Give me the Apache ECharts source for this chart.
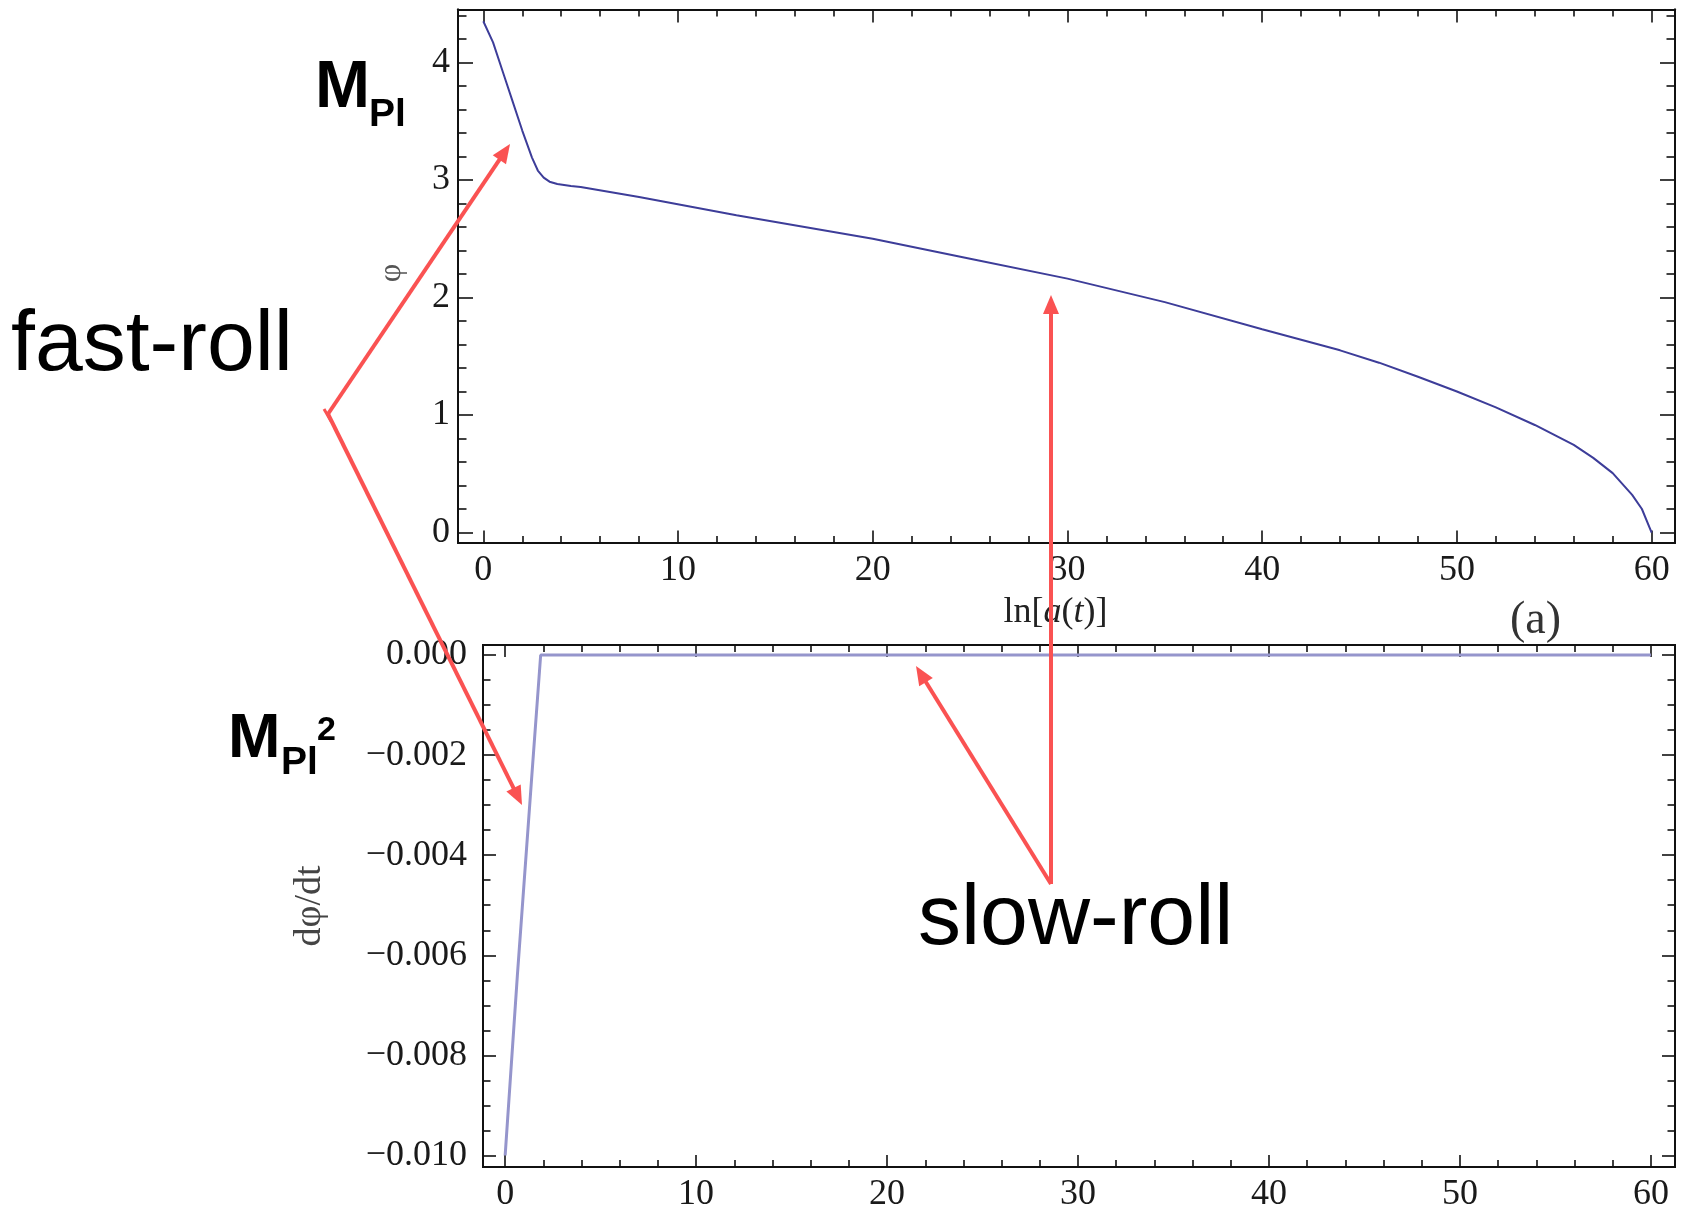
<!DOCTYPE html>
<html>
<head>
<meta charset="utf-8">
<script src="https://cdn.jsdelivr.net/npm/echarts@6/dist/echarts.min.js"></script>
<style>
  html, body { margin: 0; padding: 0; background: #fff; }
  #main { width: 1684px; height: 1213px; }
</style>
</head>
<body>
<div id="main"></div>
<script>
// top panel: phi against ln a(t)
const lnA = [0, 0.5, 1, 1.5, 2, 2.5, 2.8, 3.1, 3.4, 3.8, 4.5, 5, 8, 13, 20, 25, 30, 35, 40, 44, 46, 48, 50, 52, 54, 56, 57, 58, 59, 59.5, 60];
const phi = [4.35, 4.17, 3.92, 3.67, 3.42, 3.19, 3.08, 3.02, 2.985, 2.965, 2.948, 2.94, 2.855, 2.70, 2.50, 2.33, 2.16, 1.96, 1.73, 1.55, 1.445, 1.325, 1.20, 1.065, 0.915, 0.745, 0.635, 0.505, 0.32, 0.2, 0];

// bottom panel: dphi/dt against ln a(t)
const lnA2 = [0, 0.64, 1.38, 1.86, 2.2, 60];
const dphi = [-0.0100, -0.0064, -0.0025, 0, 0, 0];

// tick labels
const xTicks = [0, 10, 20, 30, 40, 50, 60];
const phiTicks = [0, 1, 2, 3, 4];
const dphiTicks = [0, -0.002, -0.004, -0.006, -0.008, -0.010];

const RED = '#fa5252';
const INK = '#111';
const SERIF = '"Liberation Serif", "Times New Roman", serif';
const SANS = '"Liberation Sans", Arial, Helvetica, sans-serif';

// minor tick positions (between the labelled ones)
function minors(from, to, step, every) {
    let out = [];
    let n = Math.round((to - from) / step);
    for (let k = 0; k <= n; k++) {
        if (k % every !== 0) out.push(+(from + k * step).toFixed(6));
    }
    return out;
}

function axis(grid, pos, min, max, ticks, len, extra) {
    return Object.assign({
        type: 'value',
        gridIndex: grid,
        position: pos,
        min: min,
        max: max,
        axisLine: { show: true, onZero: false, lineStyle: { color: INK, width: 2 } },
        axisTick: { show: true, inside: true, length: len, customValues: ticks, lineStyle: { color: INK, width: 1.6 } },
        axisLabel: { show: false },
        splitLine: { show: false }
    }, extra || {});
}

const tickFont = { fontFamily: SERIF, fontSize: 36, color: '#1a1a1a' };

const xMinor = minors(0, 60, 2, 5);
const phiMinor = minors(0, 4.4, 0.2, 5).concat([4.2, 4.4]).filter((v, i, a) => a.indexOf(v) === i);
const dphiMinor = minors(-0.010, 0, 0.0005, 4);

const fmtD = v => (Math.abs(v) < 1e-9 ? '0.000' : '\u2212' + Math.abs(v).toFixed(3));

const xAxes = [
    // top panel
    axis(0, 'bottom', -1.3, 61.2, xTicks, 12, {
        axisLabel: Object.assign({ show: true, customValues: xTicks, margin: 10 }, tickFont),
        name: 'ln[{i|a}({i|t})]',
        nameLocation: 'middle',
        nameGap: 52,
        nameTextStyle: {
            fontFamily: SERIF, fontSize: 36, color: '#222', padding: [0, 22, 0, 0],
            rich: { i: { fontFamily: SERIF, fontSize: 36, fontStyle: 'italic', color: '#222' } }
        }
    }),
    axis(0, 'bottom', -1.3, 61.2, xMinor, 6.5),
    axis(0, 'top', -1.3, 61.2, xTicks, 13),
    axis(0, 'top', -1.3, 61.2, xMinor, 7),
    // bottom panel
    axis(1, 'bottom', -1.16, 61.26, xTicks, 12, {
        axisLabel: Object.assign({ show: true, customValues: xTicks, margin: 10 }, tickFont)
    }),
    axis(1, 'bottom', -1.16, 61.26, xMinor, 7),
    axis(1, 'top', -1.16, 61.26, xTicks, 12),
    axis(1, 'top', -1.16, 61.26, xMinor, 7)
];

const yAxes = [
    // top panel
    axis(0, 'left', -0.085, 4.45, phiTicks, 15, {
        axisLabel: Object.assign({ show: true, customValues: phiTicks, margin: 8 }, tickFont),
        name: 'φ',
        nameLocation: 'middle',
        nameRotate: 90,
        nameGap: 50,
        nameTextStyle: { fontFamily: SERIF, fontSize: 32, color: '#555', padding: [0, 0, 0, 6] }
    }),
    axis(0, 'left', -0.085, 4.45, phiMinor, 8.5),
    axis(0, 'right', -0.085, 4.45, phiTicks, 15),
    axis(0, 'right', -0.085, 4.45, phiMinor, 8.5),
    // bottom panel
    axis(1, 'left', -0.01023, 0.0002, dphiTicks, 13, {
        axisLabel: Object.assign({ show: true, customValues: dphiTicks, margin: 16, formatter: fmtD }, tickFont),
        name: 'dφ/dt',
        nameLocation: 'middle',
        nameRotate: 90,
        nameGap: 154,
        nameTextStyle: { fontFamily: SERIF, fontSize: 38, color: '#444' }
    }),
    axis(1, 'left', -0.01023, 0.0002, dphiMinor, 7.5),
    axis(1, 'right', -0.01023, 0.0002, dphiTicks, 13),
    axis(1, 'right', -0.01023, 0.0002, dphiMinor, 7.5)
];

// red annotation arrows
function arrow(x1, y1, x2, y2) {
    let dx = x2 - x1, dy = y2 - y1;
    let L = Math.sqrt(dx * dx + dy * dy);
    let ux = dx / L, uy = dy / L;
    let head = 19, half = 8;
    let bx = x2 - ux * head, by = y2 - uy * head;
    return [
        { type: 'line', z: 100, shape: { x1: x1, y1: y1, x2: bx + ux * 2, y2: by + uy * 2 },
          style: { stroke: RED, lineWidth: 4 } },
        { type: 'polygon', z: 100, shape: { points: [[x2, y2], [bx - uy * half, by + ux * half], [bx + uy * half, by - ux * half]] },
          style: { fill: RED } }
    ];
}

function label(x, y, text, font, color) {
    return {
        type: 'text', z: 100, x: x, y: y,
        style: { text: text, font: font, fill: color || '#000',
                 align: 'left', verticalAlign: 'middle', textAlign: 'left', textVerticalAlign: 'middle' }
    };
}

let graphics = [];
graphics = graphics.concat(arrow(328, 414, 510, 144));
graphics = graphics.concat(arrow(328, 414, 522, 805));
graphics = graphics.concat(arrow(1051, 884, 1051, 295));
graphics = graphics.concat(arrow(1051, 884, 916, 666));
// little cross-bar where the two fast-roll arrows meet
graphics.push({ type: 'line', z: 100, shape: { x1: 324, y1: 409, x2: 331, y2: 421 }, style: { stroke: RED, lineWidth: 3 } });
graphics.push(label(11, 346, 'fast-roll', '86px ' + SANS));
graphics.push(label(918, 920, 'slow-roll', '86px ' + SANS));
graphics.push(label(315, 89, 'M', 'bold 66px ' + SANS));
graphics.push(label(369, 115, 'Pl', 'bold 39px ' + SANS));
graphics.push(label(228, 740, 'M', 'bold 63px ' + SANS));
graphics.push(label(281, 763, 'Pl', 'bold 39px ' + SANS));
graphics.push(label(317, 731, '2', 'bold 34px ' + SANS));
graphics.push(label(1510, 621, '(a)', '46px ' + SERIF, '#333'));

const chart = echarts.init(document.getElementById('main'));
chart.setOption({
    animation: false,
    backgroundColor: '#fff',
    grid: [
        { left: 458, top: 9.5, width: 1217, height: 533 },
        { left: 483, top: 645, width: 1192, height: 523 }
    ],
    xAxis: xAxes,
    yAxis: yAxes,
    series: [
        {
            type: 'line',
            xAxisIndex: 0,
            yAxisIndex: 0,
            data: lnA.map((x, i) => [x, phi[i]]),
            showSymbol: false,
            smooth: false,
            lineStyle: { color: '#3d3d99', width: 2 },
            itemStyle: { color: '#3d3d99' },
            silent: true
        },
        {
            type: 'line',
            xAxisIndex: 4,
            yAxisIndex: 4,
            data: lnA2.map((x, i) => [x, dphi[i]]),
            showSymbol: false,
            lineStyle: { color: '#9595cc', width: 3 },
            itemStyle: { color: '#9595cc' },
            silent: true
        }
    ],
    graphic: graphics
});
</script>
</body>
</html>
